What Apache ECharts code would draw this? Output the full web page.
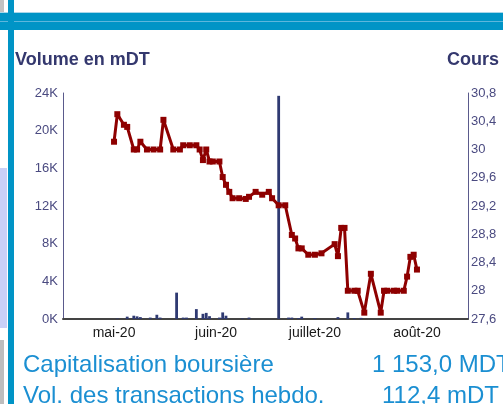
<!DOCTYPE html>
<html>
<head>
<meta charset="utf-8">
<script src="https://cdn.jsdelivr.net/npm/echarts@6/dist/echarts.min.js"></script>
<style>
html,body{margin:0;padding:0;background:#fff;}
#c{width:503px;height:404px;}
</style>
</head>
<body>
<div id="c"></div>
<script>
// ---- data ----
const axisStart = '2020-04-16';
const axisEnd = '2020-08-16';
const monthLabels = ['janv.-20','févr.-20','mars-20','avr.-20','mai-20','juin-20','juillet-20','août-20','sept.-20','oct.-20','nov.-20','déc.-20'];

const priceDates = ['2020-05-01','2020-05-02','2020-05-04','2020-05-05','2020-05-07','2020-05-08','2020-05-09','2020-05-11','2020-05-13','2020-05-15','2020-05-16','2020-05-19','2020-05-21','2020-05-22','2020-05-24','2020-05-26','2020-05-27','2020-05-28','2020-05-29','2020-05-30','2020-05-31','2020-06-02','2020-06-03','2020-06-04','2020-06-05','2020-06-06','2020-06-08','2020-06-10','2020-06-11','2020-06-13','2020-06-15','2020-06-17','2020-06-18','2020-06-20','2020-06-22','2020-06-24','2020-06-25','2020-06-26','2020-06-27','2020-06-29','2020-07-01','2020-07-03','2020-07-07','2020-07-08','2020-07-09','2020-07-10','2020-07-11','2020-07-13','2020-07-14','2020-07-16','2020-07-18','2020-07-21','2020-07-22','2020-07-23','2020-07-25','2020-07-26','2020-07-28','2020-07-29','2020-07-30','2020-07-31','2020-08-01'];
const priceValues = [30.11,30.50,30.35,30.32,30.00,30.00,30.11,30.00,30.00,30.00,30.42,30.00,30.00,30.06,30.06,30.06,30.00,29.85,30.00,29.83,29.83,29.83,29.61,29.50,29.40,29.31,29.31,29.30,29.33,29.40,29.36,29.40,29.31,29.21,29.21,28.79,28.74,28.60,28.60,28.51,28.51,28.53,28.66,28.49,28.89,28.89,28.00,28.00,28.00,27.69,28.24,27.69,28.00,28.00,28.00,28.00,28.00,28.20,28.48,28.51,28.30];

const volDates = ['2020-05-02','2020-05-05','2020-05-07','2020-05-08','2020-05-09','2020-05-12','2020-05-14','2020-05-15','2020-05-20','2020-05-22','2020-05-23','2020-05-26','2020-05-28','2020-05-29','2020-05-30','2020-06-02','2020-06-03','2020-06-04','2020-06-09','2020-06-11','2020-06-20','2020-06-23','2020-06-24','2020-06-26','2020-06-27','2020-07-01','2020-07-08','2020-07-11','2020-07-13','2020-07-15'];
const volValues = [50,250,350,280,200,150,450,150,2800,150,150,1050,550,650,300,150,700,350,50,150,23700,150,150,100,250,100,200,700,100,120];

const leftTicks = {min:0, max:24000, interval:4000};
const rightTicks = {min:27.6, max:30.8, interval:0.4};

// ---- build categories ----
function fmt(d){const m=d.getUTCMonth()+1, dd=d.getUTCDate();return d.getUTCFullYear()+'-'+(m<10?'0':'')+m+'-'+(dd<10?'0':'')+dd;}
const cats=[];
for(let d=new Date(axisStart+'T00:00:00Z'); d<=new Date(axisEnd+'T00:00:00Z'); d=new Date(d.getTime()+86400000)) cats.push(fmt(d));
const priceSeries = cats.map(()=>null);
priceDates.forEach((d,i)=>{priceSeries[cats.indexOf(d)]=priceValues[i];});
const volSeries = cats.map(()=>null);
volDates.forEach((d,i)=>{volSeries[cats.indexOf(d)]=volValues[i];});

const chart = echarts.init(document.getElementById('c'), null, {renderer:'canvas'});
const FONT = 'Liberation Sans, Arial, sans-serif';
const blue = '#0094c6';
chart.setOption({
  animation:false,
  grid:{left:63, right:35, top:93, bottom:85, containLabel:false},
  xAxis:{
    type:'category', data:cats, boundaryGap:true,
    axisLine:{show:true, lineStyle:{color:'#444', width:2}},
    axisTick:{show:false},
    axisLabel:{
      interval:(idx,val)=>val.slice(8)==='01',
      formatter:(val)=>monthLabels[parseInt(val.slice(5,7),10)-1],
      color:'#1a1a1a', fontSize:14, fontFamily:FONT, margin:7
    },
    splitLine:{show:false}
  },
  yAxis:[
    {type:'value', min:leftTicks.min, max:leftTicks.max, interval:leftTicks.interval, position:'left',
     axisLine:{show:true, lineStyle:{color:'#5a5a8c', width:1}}, axisTick:{show:false}, splitLine:{show:false},
     axisLabel:{formatter:(v)=>(v/1000)+'K', color:'#4a4a80', fontSize:13, fontFamily:FONT, margin:5}},
    {type:'value', min:rightTicks.min, max:rightTicks.max, interval:rightTicks.interval, position:'right',
     axisLine:{show:true, lineStyle:{color:'#5a5a8c', width:1}}, axisTick:{show:false}, splitLine:{show:false},
     axisLabel:{formatter:(v)=>String(Math.round(v*10)/10).replace('.',','), color:'#4a4a80', fontSize:13, fontFamily:FONT, margin:3}}
  ],
  series:[
    {type:'bar', yAxisIndex:0, data:volSeries, barWidth:'85%', itemStyle:{color:'#2f3a72'}},
    {type:'line', yAxisIndex:1, data:priceSeries, connectNulls:true, showAllSymbol:true, symbol:'rect', symbolSize:6,
     lineStyle:{color:'#8e0000', width:3}, itemStyle:{color:'#8e0000'}}
  ],
  graphic:[
    {type:'rect', shape:{x:0,y:12,width:503,height:1}, style:{fill:'#a9d7ea'}, silent:true},
    {type:'rect', shape:{x:0,y:13,width:503,height:17}, style:{fill:blue}, silent:true},
    {type:'rect', shape:{x:0,y:21,width:503,height:1}, style:{fill:'#5db6dc'}, silent:true},
    {type:'rect', shape:{x:8,y:0,width:6,height:404}, style:{fill:blue}, silent:true},
    {type:'rect', shape:{x:0,y:0,width:4,height:12}, style:{fill:'#c2c2c2'}, silent:true},
    {type:'rect', shape:{x:0,y:168,width:7,height:160}, style:{fill:'#c9d0f7'}, silent:true},
    {type:'rect', shape:{x:0,y:340,width:4,height:64}, style:{fill:'#bdbdbd'}, silent:true},
    {type:'text', left:15, top:51, style:{text:'Volume en mDT', font:'bold 18px '+FONT, fill:'#34386e'}},
    {type:'text', left:447, top:51, style:{text:'Cours', font:'bold 18px '+FONT, fill:'#34386e'}},
    {type:'text', left:23, top:353, style:{text:'Capitalisation boursière', font:'24px '+FONT, fill:'#1b8fd2'}},
    {type:'text', left:372, top:353, style:{text:'1 153,0 MDT', font:'24px '+FONT, fill:'#1b8fd2'}},
    {type:'text', left:23, top:384, style:{text:'Vol. des transactions hebdo.', font:'24px '+FONT, fill:'#1b8fd2'}},
    {type:'text', left:382, top:384, style:{text:'112,4 mDT', font:'24px '+FONT, fill:'#1b8fd2'}}
  ]
});
</script>
</body>
</html>
